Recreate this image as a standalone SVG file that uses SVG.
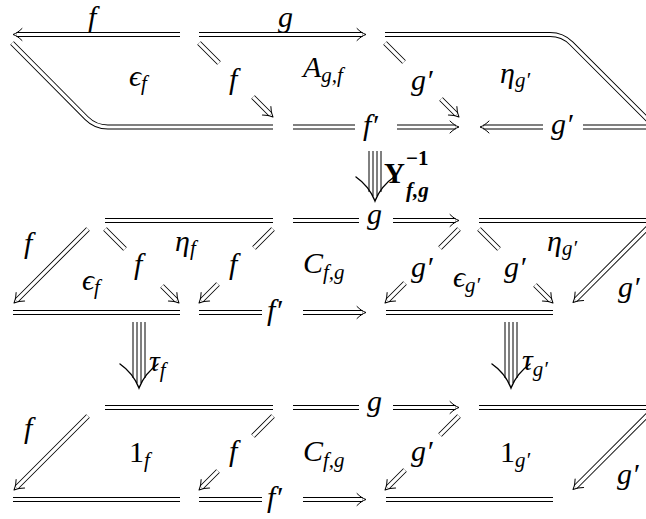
<svg xmlns="http://www.w3.org/2000/svg" xmlns:xlink="http://www.w3.org/1999/xlink" width="646" height="519" viewBox="0 0 646 519">
<style>
.o{fill:none;stroke:#000;stroke-width:5}
.i{fill:none;stroke:#fff;stroke-width:3.2}
.h{fill:none;stroke:#000;stroke-width:1;stroke-linecap:round;stroke-linejoin:round}
.t{fill:none;stroke:#000;stroke-width:1}
.th{fill:none;stroke:#000;stroke-width:1.4;stroke-linecap:round}
.m{font-family:"Liberation Serif","Times New Roman",serif;font-style:italic;font-size:30px;fill:#000}
.r{font-style:normal}
.s{font-size:21px}
.b{font-family:"Liberation Serif",serif;font-weight:bold;font-size:29px;fill:#000}
.bs{font-size:21px}
</style>
<defs>
<path id="ah" d="M-9,-6 C-6,-3 -3,-1 0,0 C-3,1 -6,3 -9,6"/>
<path id="th" d="M-19,-24 Q-6,-15 0,0 Q6,-15 19,-24"/>
<path id="L" d="
M180,34.5 H16.5
M199,34.5 H362.5
M385,34.5 H550 Q562.5,34.5 571.3,43.3 L650,122
M12,43 L86.6,118.2 Q95.4,127 107.8,127 H273
M199,43 L219,63 M253,97 L270.5,114.5
M385,43 L404,62 M441,99 L456.5,114.5
M293,127 H355 M397,127 H455.5
M483.5,127 H543 M583,127 H650
M105,220.5 H273
M293,220.5 H359 M393,220.5 H455.5
M479,220.5 H650
M88,229 L16.5,300.5
M105,229 L125,249 M162,286 L176.5,300.5
M273,229 L254,248 M218,284 L201.5,300.5
M459,229 L440,248 M405,283 L387.5,300.5
M479,229 L499,249 M535,285 L550.5,300.5
M648,227.5 L575.5,300
M13,312.5 H180 M199,312.5 H262 M303,312.5 H362.5 M386,312.5 H553
M105,407.5 H273
M293,407.5 H359 M393,407.5 H455.5
M479,407.5 H650
M88,416 L16.5,487.5
M273,416 L253,436 M218,471 L201.5,487.5
M459,416 L440,435 M405,470 L387.5,487.5
M648,414.5 L575.5,487
M13,499.5 H180 M199,499.5 H262 M303,499.5 H362.5 M386,499.5 H553"/>
</defs>
<rect width="646" height="519" fill="#fff"/>
<g id="connectors">
<use xlink:href="#L" class="o"/>
<use xlink:href="#L" class="i"/>
<g class="h">
<use xlink:href="#ah" transform="translate(13,34.5) rotate(180)"/>
<use xlink:href="#ah" transform="translate(366,34.5)"/>
<use xlink:href="#ah" transform="translate(273,117) rotate(45)"/>
<use xlink:href="#ah" transform="translate(459,117) rotate(45)"/>
<use xlink:href="#ah" transform="translate(459,127)"/>
<use xlink:href="#ah" transform="translate(480,127) rotate(180)"/>
<use xlink:href="#ah" transform="translate(459,220.5)"/>
<use xlink:href="#ah" transform="translate(14,303) rotate(135)"/>
<use xlink:href="#ah" transform="translate(179,303) rotate(45)"/>
<use xlink:href="#ah" transform="translate(199,303) rotate(135)"/>
<use xlink:href="#ah" transform="translate(385,303) rotate(135)"/>
<use xlink:href="#ah" transform="translate(553,303) rotate(45)"/>
<use xlink:href="#ah" transform="translate(573,302.5) rotate(135)"/>
<use xlink:href="#ah" transform="translate(366,312.5)"/>
<use xlink:href="#ah" transform="translate(459,407.5)"/>
<use xlink:href="#ah" transform="translate(14,490) rotate(135)"/>
<use xlink:href="#ah" transform="translate(199,490) rotate(135)"/>
<use xlink:href="#ah" transform="translate(385,490) rotate(135)"/>
<use xlink:href="#ah" transform="translate(573,489.5) rotate(135)"/>
<use xlink:href="#ah" transform="translate(366,499.5)"/>
</g>
<g id="upsilon" transform="translate(375,0)">
<path class="t" d="M-6,151 V192 M-2,151 V196 M2,151 V196 M6,151 V192"/>
<use xlink:href="#th" class="th" transform="translate(0,201)"/>
</g>
<g id="tauf" transform="translate(139,0)">
<path class="t" d="M-6,322 V378 M-2,322 V383 M2,322 V383 M6,322 V378"/>
<use xlink:href="#th" class="th" transform="translate(0,388)"/>
</g>
<g id="taug" transform="translate(511,0)">
<path class="t" d="M-6,322 V378 M-2,322 V383 M2,322 V383 M6,322 V378"/>
<use xlink:href="#th" class="th" transform="translate(0,388)"/>
</g>
</g>
<g id="row1">
<text class="m" x="88" y="27">f</text>
<text class="m" x="278" y="27">g</text>
<text class="m" x="129" y="86">ϵ<tspan class="s" dy="4">f</tspan></text>
<text class="m" x="229" y="89">f</text>
<text class="m" x="303" y="77">A<tspan class="s" dy="5">g,f</tspan></text>
<text class="m" x="411" y="90">g′</text>
<text class="m" x="500" y="83">η<tspan class="s" dy="4">g′</tspan></text>
<text class="m" x="363" y="135">f′</text>
<text class="m" x="551" y="134">g′</text>
</g>
<g id="label-upsilon">
<text class="b" x="384" y="183">Υ</text>
<text class="b bs" x="406" y="165">−1</text>
<text class="b bs" x="406" y="197" font-style="italic">f,g</text>
</g>
<g id="row2">
<text class="m" x="367" y="224">g</text>
<text class="m" x="24" y="253">f</text>
<text class="m" x="175" y="251">η<tspan class="s" dy="4">f</tspan></text>
<text class="m" x="134" y="274">f</text>
<text class="m" x="229" y="274">f</text>
<text class="m" x="82" y="290">ϵ<tspan class="s" dy="4">f</tspan></text>
<text class="m" x="303" y="273">C<tspan class="s" dy="6">f,g</tspan></text>
<text class="m" x="411" y="277">g′</text>
<text class="m" x="453" y="287">ϵ<tspan class="s" dy="5">g′</tspan></text>
<text class="m" x="504" y="277">g′</text>
<text class="m" x="547" y="251">η<tspan class="s" dy="4">g′</tspan></text>
<text class="m" x="618" y="297">g′</text>
<text class="m" x="267" y="320">f′</text>
</g>
<g id="tau-labels">
<text class="m" x="149" y="371">τ<tspan class="s" dy="6">f</tspan></text>
<text class="m" x="522" y="370">τ<tspan class="s" dy="6">g′</tspan></text>
</g>
<g id="row3">
<text class="m" x="367" y="411">g</text>
<text class="m" x="24" y="438">f</text>
<text class="m" x="129" y="462"><tspan class="r">1</tspan><tspan class="s" dy="5">f</tspan></text>
<text class="m" x="229" y="461">f</text>
<text class="m" x="303" y="461">C<tspan class="s" dy="6">f,g</tspan></text>
<text class="m" x="411" y="461">g′</text>
<text class="m" x="500" y="462"><tspan class="r">1</tspan><tspan class="s" dy="5">g′</tspan></text>
<text class="m" x="617" y="484">g′</text>
<text class="m" x="267" y="507">f′</text>
</g>
</svg>
